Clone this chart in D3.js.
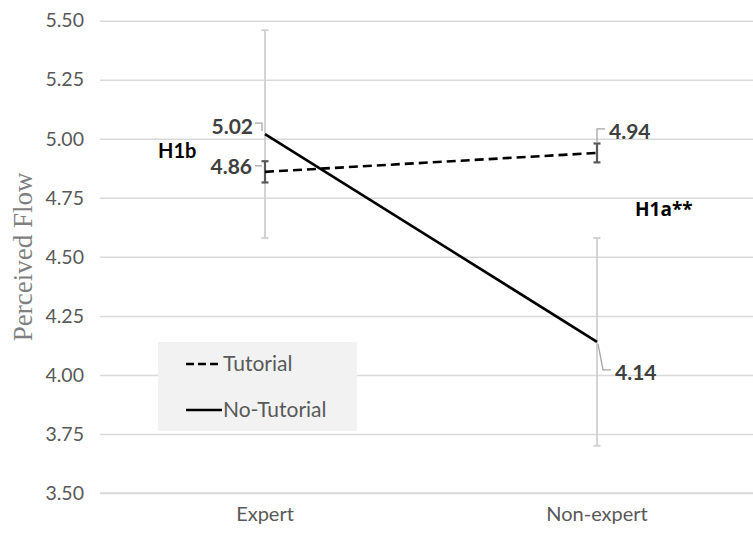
<!DOCTYPE html>
<html>
<head>
<meta charset="utf-8">
<script src="https://cdn.jsdelivr.net/npm/d3@7/dist/d3.min.js"></script>
<style>
  html, body { margin: 0; padding: 0; background: #ffffff; }
  svg { display: block; }
</style>
</head>
<body>
<script>
// ---- data ----
const categories = ["Expert", "Non-expert"];
const seriesNames = ["Tutorial", "No-Tutorial"];
const tutorialValues = [4.86, 4.94];
const noTutorialValues = [5.02, 4.14];
const tutorialErrors = [0.045, 0.04];
const noTutorialErrors = [0.44, 0.44];
const yTicks = [3.50, 3.75, 4.00, 4.25, 4.50, 4.75, 5.00, 5.25, 5.50];
const yTitle = "Perceived Flow";
const annotations = ["H1b", "H1a**"];

// ---- layout ----
const W = 753, H = 538;
const plot = { left: 99, right: 763, top: 20.7, bottom: 493 };
const FONT = "Lato, 'Open Sans', 'Noto Sans', sans-serif";

const svg = d3.select("body").append("svg").attr("width", W).attr("height", H);

const x = d3.scaleBand().domain(categories).range([plot.left, plot.right]);
const cx = c => x(c) + x.bandwidth() / 2;
const y = d3.scaleLinear().domain([3.5, 5.5]).range([plot.bottom, plot.top]);

// gridlines
const yAxis = d3.axisLeft(y).tickValues(yTicks).tickFormat(d3.format(".2f"))
  .tickSize(-(W - 100)).tickPadding(16);
const gy = svg.append("g").attr("transform", `translate(100,0)`).call(yAxis);
gy.select(".domain").remove();
gy.selectAll(".tick line").attr("stroke", "#d9d9d9").attr("stroke-width", 1.5);
gy.selectAll(".tick text").attr("fill", "#595959").attr("font-family", FONT).attr("font-size", 19.5);

// x axis
const xAxis = d3.axisBottom(x).tickSize(0).tickPadding(14);
const gx = svg.append("g").attr("transform", `translate(0,${plot.bottom})`).call(xAxis);
gx.select(".domain").attr("stroke", "#d9d9d9").attr("stroke-width", 1.5)
  .attr("d", `M100,0H${W}`);
gx.selectAll(".tick text").attr("fill", "#595959").attr("font-family", FONT).attr("font-size", 20);

// y title
svg.append("text")
  .attr("transform", `translate(32,${(plot.top + plot.bottom) / 2}) rotate(-90)`)
  .attr("text-anchor", "middle")
  .attr("font-family", "'Liberation Serif', 'DejaVu Serif', serif")
  .attr("font-size", 27).attr("fill", "#7f7f7f")
  .text(yTitle);

// series
const series = [
  { name: seriesNames[0], values: tutorialValues, errors: tutorialErrors, dash: "9,5", ebColor: "#595959", ebWidth: 2.2 },
  { name: seriesNames[1], values: noTutorialValues, errors: noTutorialErrors, dash: null, ebColor: "#d0d0d0", ebWidth: 1.8 }
];

// error bars (light ones behind)
[series[1], series[0]].forEach(s => {
  const g = svg.append("g");
  categories.forEach((c, i) => {
    const px = cx(c);
    const hi = y(s.values[i] + s.errors[i]);
    const lo = y(s.values[i] - s.errors[i]);
    g.append("line").attr("x1", px).attr("x2", px).attr("y1", hi).attr("y2", lo)
      .attr("stroke", s.ebColor).attr("stroke-width", s.ebWidth);
    [hi, lo].forEach(yy => g.append("line").attr("x1", px - 3.5).attr("x2", px + 3.5)
      .attr("y1", yy).attr("y2", yy).attr("stroke", s.ebColor).attr("stroke-width", s.ebWidth));
  });
});

// lines
const line = d3.line().x((d, i) => cx(categories[i])).y(d => y(d));
series.forEach(s => {
  svg.append("path").datum(s.values).attr("d", line)
    .attr("fill", "none").attr("stroke", "#000").attr("stroke-width", 2.6)
    .attr("stroke-dasharray", s.dash);
});

// data labels with leader lines
const labelSpecs = [
  { s: 1, c: 0, anchor: "end", dx: -12, dy: -7, leader: (px, py) => `M${px - 10},${py - 11}H${px - 3}V${py - 3}` },
  { s: 0, c: 0, anchor: "end", dx: -13, dy: -5, leader: (px, py) => `M${px - 10},${py - 6}H${px - 3}` },
  { s: 0, c: 1, anchor: "start", dx: 12, dy: -21, leader: (px, py) => `M${px},${py - 11}V${py - 24}H${px + 8}` },
  { s: 1, c: 1, anchor: "start", dx: 18, dy: 31, leader: (px, py) => `M${px + 1},${py + 2}L${px + 6},${py + 28}H${px + 14}` }
];
labelSpecs.forEach(l => {
  const s = series[l.s];
  const px = cx(categories[l.c]);
  const py = y(s.values[l.c]);
  svg.append("path").attr("d", l.leader(px, py)).attr("fill", "none")
    .attr("stroke", "#a6a6a6").attr("stroke-width", 1.3);
  svg.append("text").attr("x", px + l.dx).attr("y", py + l.dy)
    .attr("dy", "0.35em").attr("text-anchor", l.anchor)
    .attr("font-family", FONT).attr("font-weight", "bold").attr("font-size", 21)
    .attr("fill", "#404040").text(d3.format(".2f")(s.values[l.c]));
});

// annotations
svg.append("text").attr("x", cx(categories[0]) - 107).attr("y", y(4.95)).attr("dy", "0.35em")
  .attr("font-family", FONT).attr("font-weight", "bold").attr("font-size", 20)
  .attr("fill", "#000").text(annotations[0]);
svg.append("text").attr("x", cx(categories[1]) + 38).attr("y", y(4.70)).attr("dy", "0.35em")
  .attr("font-family", "'Open Sans', Lato, sans-serif").attr("font-weight", "bold").attr("font-size", 19)
  .attr("fill", "#000").text(annotations[1]);

// legend
const lg = svg.append("g");
lg.append("rect").attr("x", 158).attr("y", 342).attr("width", 199).attr("height", 89).attr("fill", "#f2f2f2");
series.forEach((s, i) => {
  const ly = 364 + i * 46;
  lg.append("line").attr("x1", 186).attr("x2", 222).attr("y1", ly).attr("y2", ly)
    .attr("stroke", "#000").attr("stroke-width", 2.6).attr("stroke-dasharray", s.dash ? "8,4" : null);
  lg.append("text").attr("x", 223).attr("y", ly).attr("dy", "0.35em")
    .attr("font-family", FONT).attr("font-size", 21).attr("fill", "#595959").text(s.name);
});
</script>
</body>
</html>
